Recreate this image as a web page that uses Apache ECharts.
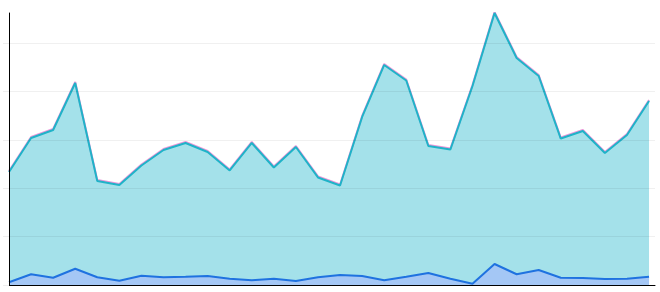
<!DOCTYPE html>
<html>
<head>
<meta charset="utf-8">
<script src="https://cdn.jsdelivr.net/npm/echarts@6/dist/echarts.min.js"></script>
<style>
html,body{margin:0;padding:0;background:#fff;}
#chart{width:660px;height:292px;}
</style>
</head>
<body>
<div id="chart"></div>
<script>
var categories = [0,1,2,3,4,5,6,7,8,9,10,11,12,13,14,15,16,17,18,19,20,21,22,23,24,25,26,27,28,29];
var seriesA = [116.7,151.9,160.1,208.7,107.4,103.3,123.5,139.5,146.7,137.4,118.3,146.7,121.4,142.6,111.1,102.8,173.6,227.3,211.3,143.6,140.0,205.6,281.0,234.5,215.9,151.3,159.1,136.4,155.0,190.1];
var seriesB = [2.8,11.1,7.5,16.8,8.0,4.4,9.6,8.0,8.6,9.3,6.5,4.9,6.5,4.1,8.0,10.3,9.3,4.9,8.6,12.4,6.5,1.3,21.7,11.1,15.5,7.5,7.2,6.2,6.5,8.6];
var yTicks = [0,50,100,150,200,250];

var chart = echarts.init(document.getElementById('chart'));
function pairs(arr){ return arr.map(function(v,i){ return [categories[i], v]; }); }
chart.setOption({
  animation:false,
  grid:{left:9,right:5,top:13,bottom:7,containLabel:false},
  xAxis:{
    type:'value', min:0, max:29.27,
    axisLine:{show:true,onZero:false,lineStyle:{color:'#000',width:1}},
    axisTick:{show:false}, axisLabel:{show:false}, splitLine:{show:false}
  },
  yAxis:{
    type:'value', min:0, max:'dataMax', interval:yTicks[1]-yTicks[0],
    axisLine:{show:true,lineStyle:{color:'#000',width:1}},
    axisTick:{show:true,length:6,customValues:yTicks,lineStyle:{color:'#eeeeee'}},
    axisLabel:{show:false},
    splitLine:{show:true,lineStyle:{color:'rgba(0,0,0,0.06)',width:1}},
    z:3
  },
  series:[
    {type:'line', data:pairs(seriesA), symbol:'none', smooth:false,
     lineStyle:{color:'#1fb3c8',width:2,shadowColor:'rgba(220,80,190,0.6)',shadowBlur:0,shadowOffsetY:-1},
     areaStyle:{color:'#a4e1ea',opacity:1}, z:2},
    {type:'line', data:pairs(seriesB), symbol:'none', smooth:false,
     lineStyle:{color:'#1f72e0',width:2},
     areaStyle:{color:'#a4c7f5',opacity:1}, z:2}
  ]
});
</script>
</body>
</html>
